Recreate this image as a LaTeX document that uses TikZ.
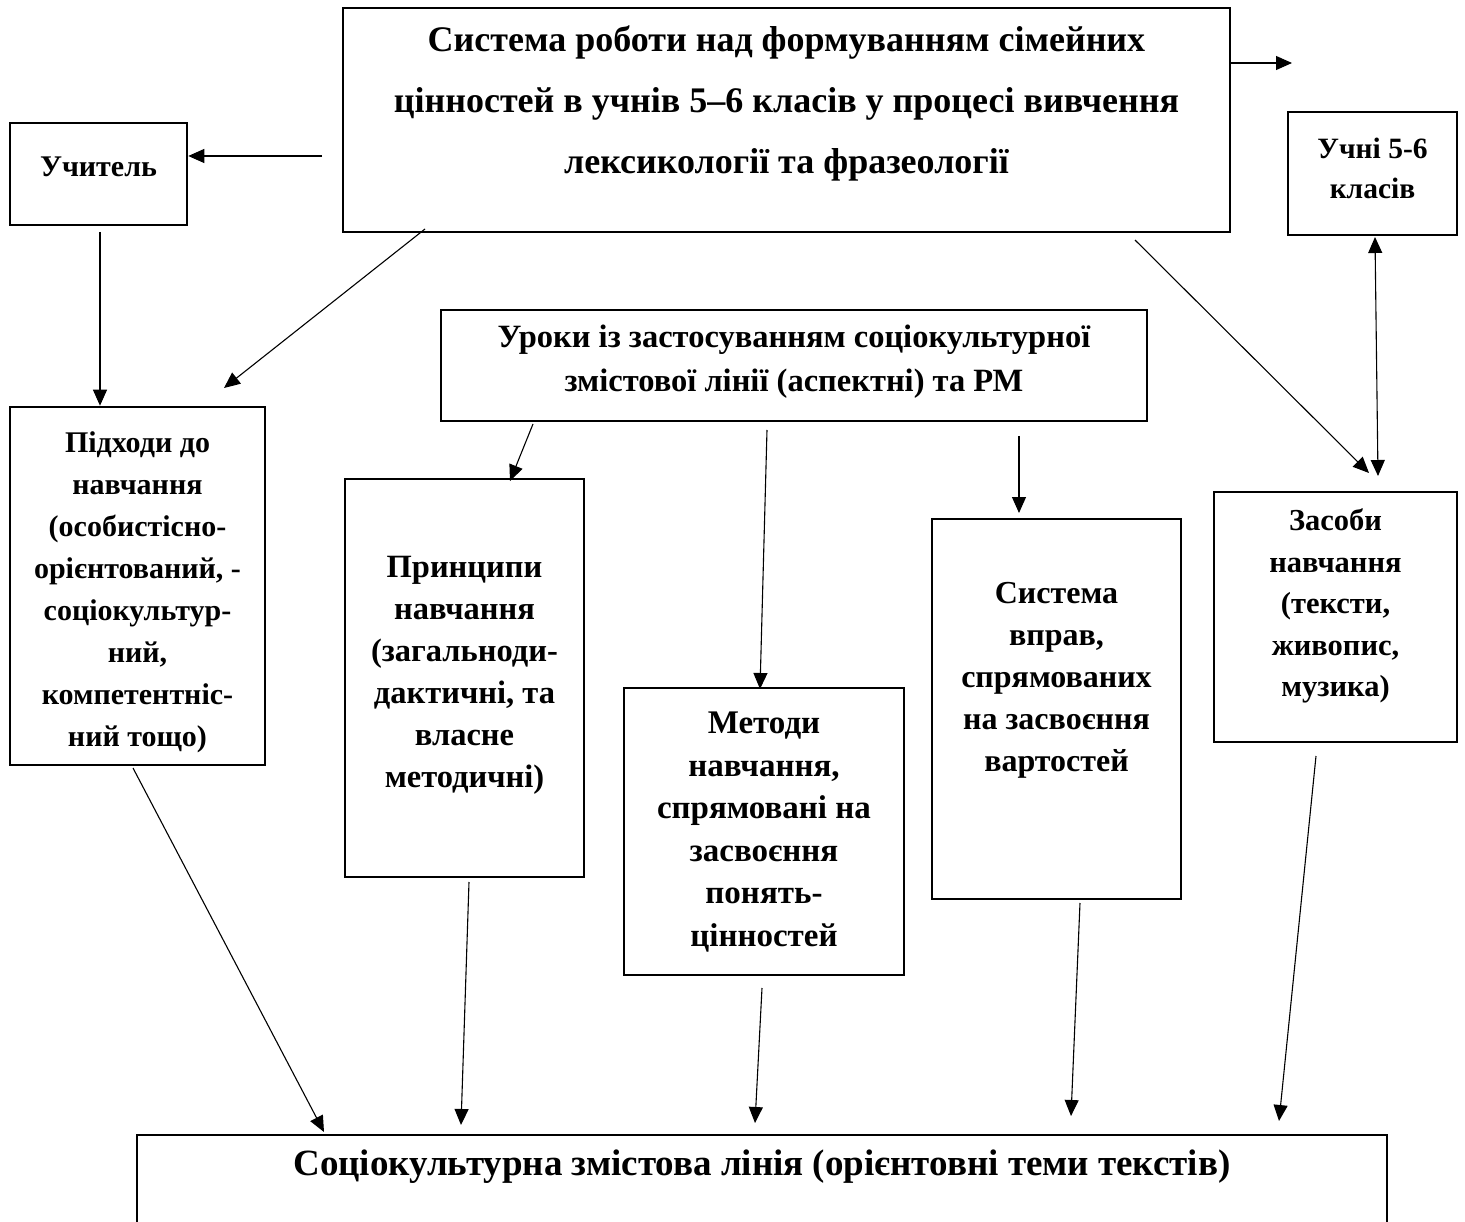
\documentclass[tikz,border=0pt]{standalone}
\usepackage{fontspec}
\setmainfont{Liberation Serif}
\usetikzlibrary{arrows.meta}
\begin{document}
\begin{tikzpicture}[x=1pt,y=-1pt,
  box/.style={draw, line width=2.6pt, inner sep=0pt},
  txt/.style={align=center, inner sep=0pt},
  arr/.style={line width=1.1pt, -{Triangle[length=16pt,width=14pt]}},
  darr/.style={line width=1.1pt, {Triangle[length=16pt,width=14pt]}-{Triangle[length=16pt,width=14pt]}}]
\clip (0,0) rectangle (1465,1222);
\fill[white] (0,0) rectangle (1465,1222);
% boxes
\node[box, minimum width=887pt, minimum height=224pt] (main) at (786.5,120) {};
\node[box, minimum width=177pt, minimum height=102pt] (teacher) at (98.5,174) {};
\node[box, minimum width=169pt, minimum height=123pt] (pupils) at (1372.5,173.5) {};
\node[box, minimum width=255pt, minimum height=358pt] (appr) at (137.5,586) {};
\node[box, minimum width=706pt, minimum height=111pt] (lessons) at (794,365.5) {};
\node[box, minimum width=239pt, minimum height=398pt] (princ) at (464.5,678) {};
\node[box, minimum width=280pt, minimum height=287pt] (meth) at (764,831.5) {};
\node[box, minimum width=249pt, minimum height=380pt] (exer) at (1056.5,709) {};
\node[box, minimum width=243pt, minimum height=250pt] (means) at (1335.5,617) {};
\node[box, minimum width=1250pt, minimum height=200pt] (content) at (762,1235) {};
% texts
\node[txt, font={\fontsize{36}{61}\selectfont\bfseries}] (mainT) at (786.5,103) {Система роботи над формуванням сімейних\\цінностей в учнів 5–6 класів у процесі вивчення\\лексикології та фразеології};
\node[txt, font={\fontsize{30}{40}\selectfont\bfseries}] (teacherT) at (98.5,167) {Учитель};
\node[txt, font={\fontsize{29.5}{40}\selectfont\bfseries}] (pupilsT) at (1372.5,168) {Учні 5-6\\класів};
\node[txt, font={\fontsize{30}{42}\selectfont\bfseries}] (apprT) at (137.5,592) {Підходи до\\навчання\\(особистісно-\\орієнтований, -\\соціокультур-\\ний,\\компетентніс-\\ний тощо)};
\node[txt, font={\fontsize{32.5}{44}\selectfont\bfseries}] (lessonsT) at (794,362) {Уроки із застосуванням соціокультурної\\змістової лінії (аспектні) та РМ};
\node[txt, font={\fontsize{32.5}{42}\selectfont\bfseries}] (princT) at (464.5,675) {Принципи\\навчання\\(загальноди-\\дактичні, та\\власне\\методичні)};
\node[txt, font={\fontsize{33}{42.5}\selectfont\bfseries}] (methT) at (764,832) {Методи\\навчання,\\спрямовані на\\засвоєння\\понять-\\цінностей};
\node[txt, font={\fontsize{32}{42}\selectfont\bfseries}] (exerT) at (1056.5,680) {Система\\вправ,\\спрямованих\\на засвоєння\\вартостей};
\node[txt, font={\fontsize{30.5}{41.5}\selectfont\bfseries}] (meansT) at (1335.5,606) {Засоби\\навчання\\(тексти,\\живопис,\\музика)};
\node[txt, font={\fontsize{37}{40}\selectfont\bfseries}] (contentT) at (762,1167) {Соціокультурна змістова лінія (орієнтовні теми текстів)};
% connector end points
\coordinate (a1) at (322,156);
\coordinate (a2) at (1292,63);
\coordinate (a3) at (100,232);
\coordinate (a4s) at (425,229);
\coordinate (a4e) at (224,388);
\coordinate (a5s) at (1135,240);
\coordinate (a5e) at (1369,473);
\coordinate (a6s) at (1378,476);
\coordinate (a6e) at (1375,237);
\coordinate (a7s) at (533,424);
\coordinate (a7e) at (510,481);
\coordinate (a8s) at (767,430);
\coordinate (a8e) at (760,689);
\coordinate (a9s) at (1019,436);
\coordinate (a9e) at (1019,513);
\coordinate (b1s) at (133,768);
\coordinate (b1e) at (324,1132);
\coordinate (b2s) at (469,882);
\coordinate (b2e) at (461,1125);
\coordinate (b3s) at (762,988);
\coordinate (b3e) at (755,1123);
\coordinate (b4s) at (1080,903);
\coordinate (b4e) at (1071,1116);
\coordinate (b5s) at (1316,756);
\coordinate (b5e) at (1279,1121);
% connectors
\draw[arr] (a1) -- (a1 -| teacher.east);
\draw[arr] (main.east |- a2) -- (a2);
\draw[arr] (a3) -- (a3 |- appr.north);
\draw[arr] (a4s) -- (a4e);
\draw[arr] (a5s) -- (a5e);
\draw[darr] (a6s) -- (a6e);
\draw[arr] (a7s) -- (a7e);
\draw[arr] (a8s) -- (a8e);
\draw[arr] (a9s) -- (a9e);
\draw[arr] (b1s) -- (b1e);
\draw[arr] (b2s) -- (b2e);
\draw[arr] (b3s) -- (b3e);
\draw[arr] (b4s) -- (b4e);
\draw[arr] (b5s) -- (b5e);
\end{tikzpicture}
\end{document}
